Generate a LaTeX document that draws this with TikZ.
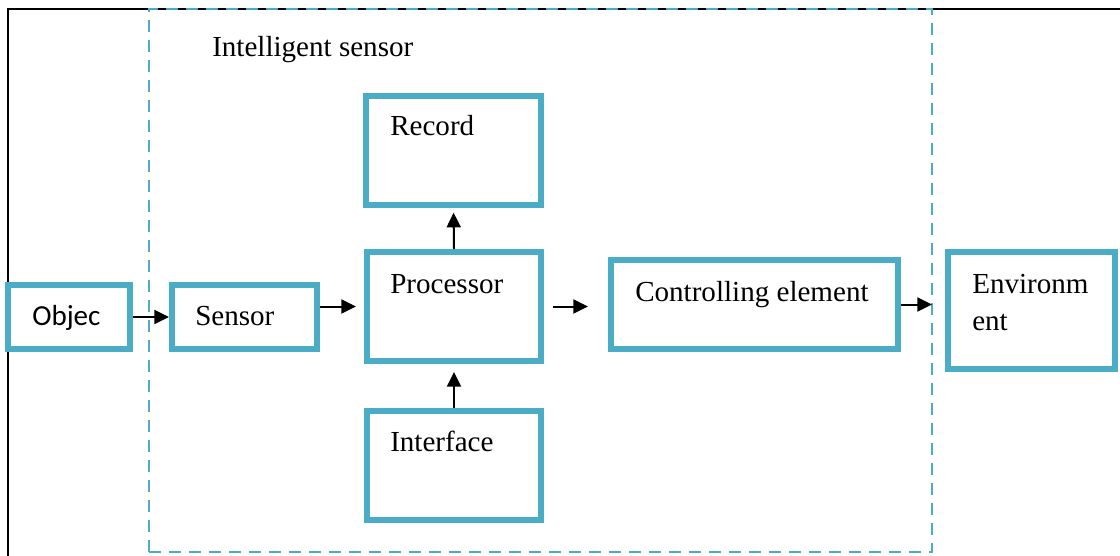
\documentclass[tikz,border=0pt]{standalone}
\usepackage{fontspec}
\setmainfont{Liberation Serif}
\newfontfamily\calibrifont{Carlito}
\usetikzlibrary{arrows.meta}
\definecolor{accentblue}{RGB}{75,172,198}
\tikzset{
  blk/.style 2 args={draw=accentblue, line width=4.5pt, fill=white,
    minimum width=#1*0.75pt, minimum height=#2*0.75pt, inner sep=0pt},
  lbl/.style={anchor=base west, inner sep=0pt,
    font=\fontsize{21.8}{27.75}\selectfont},
  flow/.style={line width=1.5pt, -{Triangle[length=11pt,width=10.5pt]}},
}
\begin{document}
\begin{tikzpicture}[x=0.75pt, y=-0.75pt]
\path[use as bounding box] (0,0) rectangle (1120,556);
\clip (0,0) rectangle (1120,556);

% enclosing frame
\draw[line width=1.2pt] (8,600) -- (8,9) -- (1140,9);

% intelligent sensor boundary
\node[draw=accentblue, line width=1.9pt, dash pattern=on 9pt off 6pt,
      minimum width=783*0.75pt, minimum height=543*0.75pt, inner sep=0pt,
      outer sep=0pt] (isbox) at (540.5,280.5) {};
\node[lbl] (istitle) at (212,57) {Intelligent sensor};

% blocks
\node[blk={122}{64}]  (obj)   at (69,317) {};
\node[blk={145}{64}]  (sens)  at (244.5,317) {};
\node[blk={175}{109}] (rec)   at (453.5,150.5) {};
\node[blk={174}{109}] (proc)  at (454,306.5) {};
\node[blk={174}{109}] (iface) at (454,465.5) {};
\node[blk={287}{89}]  (ctrl)  at (754.5,304.5) {};
\node[blk={167}{117}] (env)   at (1031.5,310.5) {};

% block texts
\node[lbl, font=\calibrifont\fontsize{21.8}{26}\selectfont] (tobj) at (32,325) {Objec};
\node[lbl] (tsens)  at (195,325) {Sensor};
\node[lbl] (trec)   at (390,136) {Record};
\node[lbl] (tproc)  at (390,293) {Processor};
\node[lbl] (tiface) at (390,451) {Interface};
\node[lbl] (tctrl)  at (635,301) {Controlling element};
% two-line label: base anchor sits on the last line
\node[lbl, align=left] (tenv) at (972,330) {Environm\\ent};

% connectors
\draw[flow] (obj.east) -- (sens.west);
\draw[flow, shorten >=6pt] (sens.east |- proc.west) -- (proc.west);
\draw[flow, shorten <=6.5pt, shorten >=15pt] (proc.east) -- (proc.east -| ctrl.west);
\draw[flow] (ctrl.east) -- (ctrl.east -| isbox.east);
\draw[flow, shorten >=3.5pt] (proc.north) -- (rec.south);
\draw[flow, shorten >=6pt] (iface.north) -- (proc.south);
\end{tikzpicture}
\end{document}
